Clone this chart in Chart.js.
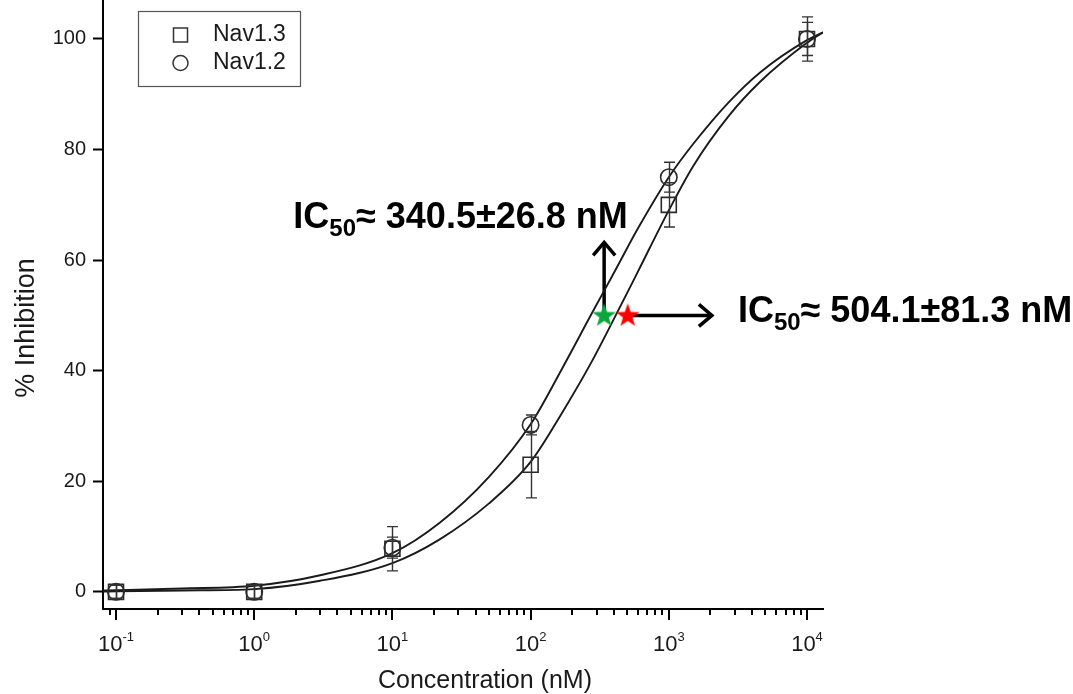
<!DOCTYPE html>
<html>
<head>
<meta charset="utf-8">
<script src="https://cdn.jsdelivr.net/npm/chart.js@4.4.1/dist/chart.umd.min.js"></script>
<style>
  html, body { margin: 0; padding: 0; background: #fff; }
  #wrap { width: 1073px; height: 694px; position: relative; }
</style>
</head>
<body>
<div id="wrap"><canvas id="doseChart" width="1073" height="694"></canvas></div>
<script>
// measured points (mean ± error), % inhibition vs concentration in nM
const concentrations = [0.1, 1, 10, 100, 1000, 10000];
const nav13Mean = [0, 0, 7.8, 23, 70, 100];
const nav13Err  = [1.2, 1.2, 4, 6, 4, 4];
const nav12Mean = [0, 0, 8, 30.2, 75, 100];
const nav12Err  = [1.2, 1.2, 1.9, 1.8, 2.7, 3];

// fitted dose-response curves
const fitConc  = [0.0805, 0.1, 0.3, 1, 3, 10, 22, 50, 100, 170, 275, 413, 600, 1000, 1500, 2700, 4600, 10000, 13056];
const nav12Fit = [0.25, 0.3, 0.6, 1.1, 3.0, 7.0, 12.5, 20.8, 30.3, 40.5, 50.2, 58.3, 65.8, 75, 81, 88.5, 94, 99.8, 101.2];
const nav13Fit = [0.05, 0.1, 0.25, 0.5, 2.0, 5.2, 9.5, 16, 23.5, 32.5, 41.5, 50, 58, 69, 77, 86, 92.3, 99.3, 101.2];

// IC50 marks and their annotations
const ic50Conc   = [340.5, 504.1];
const ic50Level  = 50;
const ic50Text   = ['\u2248 340.5\u00b126.8 nM', '\u2248 504.1\u00b181.3 nM'];
const ic50Colors = ['#0aa83c', '#ff0000'];

// axis ticks
const yTicks = [0, 20, 40, 60, 80, 100];
const xExponents = [-1, 0, 1, 2, 3, 4];
const X_MIN = 0.0805, X_MAX = 13056, Y_MIN = -3.1, Y_MAX = 107.05;

const FONT = '"Liberation Sans", Arial, sans-serif';
const INK = '#1a1a1a';

function starCanvas(color) {
  const c = document.createElement('canvas'); c.width = 26; c.height = 26;
  const g = c.getContext('2d'); g.fillStyle = color; g.beginPath();
  for (let i = 0; i < 10; i++) {
    const r = i % 2 ? 5 : 12.5, a = -Math.PI / 2 + i * Math.PI / 5;
    g.lineTo(13 + r * Math.cos(a), 13.5 + r * Math.sin(a));
  }
  g.closePath(); g.fill(); return c;
}

function arrow(ctx, x1, y1, x2, y2) {
  const ang = Math.atan2(y2 - y1, x2 - x1), L = 13, W = 11;
  ctx.save(); ctx.strokeStyle = '#000'; ctx.lineWidth = 3.5; ctx.lineJoin = 'miter';
  ctx.beginPath(); ctx.moveTo(x1, y1); ctx.lineTo(x2, y2); ctx.stroke();
  ctx.beginPath();
  ctx.moveTo(x2 - L * Math.cos(ang) + W * Math.sin(ang), y2 - L * Math.sin(ang) - W * Math.cos(ang));
  ctx.lineTo(x2, y2);
  ctx.lineTo(x2 - L * Math.cos(ang) - W * Math.sin(ang), y2 - L * Math.sin(ang) + W * Math.cos(ang));
  ctx.stroke(); ctx.restore();
}

function icLabel(ctx, x, y, rest) {
  ctx.save(); ctx.fillStyle = '#000'; ctx.textBaseline = 'alphabetic'; ctx.textAlign = 'left';
  ctx.font = 'bold 36px ' + FONT; ctx.fillText('IC', x, y); x += ctx.measureText('IC').width;
  ctx.font = 'bold 24px ' + FONT; ctx.fillText('50', x, y + 8); x += ctx.measureText('50').width;
  ctx.font = 'bold 36px ' + FONT; ctx.fillText(rest, x, y);
  ctx.restore();
}

const decorations = {
  id: 'decorations',
  beforeDatasetsDraw(chart) {
    const { ctx, scales: { x, y } } = chart;
    // arrows leaving the IC50 marks
    const gx = x.getPixelForValue(ic50Conc[0]), rx = x.getPixelForValue(ic50Conc[1]), my = y.getPixelForValue(ic50Level);
    arrow(ctx, gx, my, gx, y.getPixelForValue(63.2));
    arrow(ctx, rx, my, x.getPixelForValue(2050), my);
  },
  afterDatasetsDraw(chart) {
    const { ctx, scales: { x, y } } = chart;
    // error bars
    ctx.save(); ctx.strokeStyle = '#333'; ctx.lineWidth = 1.4;
    [[nav13Mean, nav13Err], [nav12Mean, nav12Err]].forEach(([m, e]) => {
      concentrations.forEach((c, i) => {
        const px = Math.round(x.getPixelForValue(c)) + 0.5;
        const t = y.getPixelForValue(m[i] + e[i]), b = y.getPixelForValue(m[i] - e[i]);
        ctx.beginPath();
        ctx.moveTo(px, t); ctx.lineTo(px, b);
        ctx.moveTo(px - 5.5, t); ctx.lineTo(px + 5.5, t);
        ctx.moveTo(px - 5.5, b); ctx.lineTo(px + 5.5, b);
        ctx.stroke();
      });
    });
    ctx.restore();
  },
  afterDraw(chart) {
    const { ctx, scales: { x, y }, chartArea: area } = chart;
    ctx.save();
    // x axis ticks: decades long, 2..9 short
    ctx.strokeStyle = '#000'; ctx.lineWidth = 2;
    for (let d = -2; d <= 4; d++) {
      for (let k = 1; k <= 9; k++) {
        const v = k * Math.pow(10, d);
        if (v < X_MIN || v > X_MAX) continue;
        const px = Math.round(x.getPixelForValue(v));
        ctx.beginPath(); ctx.moveTo(px, area.bottom); ctx.lineTo(px, area.bottom + (k === 1 ? 11 : 6)); ctx.stroke();
      }
    }
    // x tick labels with superscript exponent
    ctx.fillStyle = INK; ctx.textBaseline = 'alphabetic'; ctx.textAlign = 'left';
    xExponents.forEach(e => {
      const px = x.getPixelForValue(Math.pow(10, e));
      ctx.font = '22px ' + FONT; const wb = ctx.measureText('10').width;
      ctx.font = '13px ' + FONT; const we = ctx.measureText(String(e)).width;
      const x0 = px - (wb + we) / 2;
      ctx.font = '22px ' + FONT; ctx.fillText('10', x0, 651);
      ctx.font = '13px ' + FONT; ctx.fillText(String(e), x0 + wb, 641);
    });
    // axis titles
    ctx.textAlign = 'center';
    ctx.font = '25px ' + FONT; ctx.fillText('Concentration (nM)', 485, 688);
    ctx.save(); ctx.translate(34, 328); ctx.rotate(-Math.PI / 2);
    ctx.font = '27px ' + FONT; ctx.fillText('% Inhibition', 0, 0); ctx.restore();
    // legend
    ctx.strokeStyle = '#555'; ctx.lineWidth = 1.2; ctx.strokeRect(138.5, 11.5, 162, 75);
    ctx.strokeStyle = '#333'; ctx.lineWidth = 1.5;
    ctx.strokeRect(173.5, 28, 14, 14);
    ctx.beginPath(); ctx.arc(180.5, 63, 7.5, 0, Math.PI * 2); ctx.stroke();
    ctx.font = '23px ' + FONT; ctx.textAlign = 'left'; ctx.textBaseline = 'middle';
    ctx.fillText('Nav1.3', 213, 35); ctx.fillText('Nav1.2', 213, 63);
    ctx.restore();
    // IC50 annotations
    icLabel(ctx, x.getPixelForValue(1.92), y.getPixelForValue(65.8), ic50Text[0]);
    icLabel(ctx, x.getPixelForValue(3162), y.getPixelForValue(48.8), ic50Text[1]);
  }
};

const pts = (xs, ys) => xs.map((v, i) => ({ x: v, y: ys[i] }));

new Chart(document.getElementById('doseChart'), {
  type: 'scatter',
  data: {
    datasets: [
      { label: 'IC50', data: pts(ic50Conc, ic50Conc.map(() => ic50Level)), order: 0,
        pointStyle: ic50Colors.map(starCanvas), pointRadius: 12 },
      { label: 'Nav1.3', data: pts(concentrations, nav13Mean), order: 1,
        pointStyle: 'rect', pointRadius: 10.6, borderColor: '#2a2a2a', borderWidth: 1.6, backgroundColor: 'rgba(0,0,0,0)' },
      { label: 'Nav1.2', data: pts(concentrations, nav12Mean), order: 1,
        pointStyle: 'circle', pointRadius: 8.2, borderColor: '#2a2a2a', borderWidth: 1.6, backgroundColor: 'rgba(0,0,0,0)' },
      { label: 'Nav1.3 fit', data: pts(fitConc, nav13Fit), order: 2, showLine: true, pointRadius: 0,
        borderColor: '#1a1a1a', borderWidth: 1.9, cubicInterpolationMode: 'monotone' },
      { label: 'Nav1.2 fit', data: pts(fitConc, nav12Fit), order: 2, showLine: true, pointRadius: 0,
        borderColor: '#1a1a1a', borderWidth: 1.9, cubicInterpolationMode: 'monotone' }
    ]
  },
  options: {
    responsive: false, animation: false, devicePixelRatio: 1,
    layout: { autoPadding: false, padding: { top: 0, right: 250, left: 0, bottom: 0 } },
    plugins: { legend: { display: false }, tooltip: { enabled: false } },
    scales: {
      x: {
        type: 'logarithmic', min: X_MIN, max: X_MAX,
        grid: { display: false },
        ticks: { display: false },
        border: { display: true, color: '#000', width: 2 },
        afterFit: s => { s.height = 85; s.paddingLeft = 0; s.paddingRight = 0; }
      },
      y: {
        min: Y_MIN, max: Y_MAX,
        afterBuildTicks: s => { s.ticks = yTicks.map(v => ({ value: v })); },
        grid: { drawOnChartArea: false, drawTicks: true, tickLength: 10, tickWidth: 2, tickColor: '#000' },
        border: { display: true, color: '#000', width: 2 },
        ticks: { color: INK, padding: 7, font: { family: FONT, size: 20 } },
        afterFit: s => { s.width = 103; s.paddingTop = 0; s.paddingBottom = 0; }
      }
    }
  },
  plugins: [decorations]
});
</script>
</body>
</html>
